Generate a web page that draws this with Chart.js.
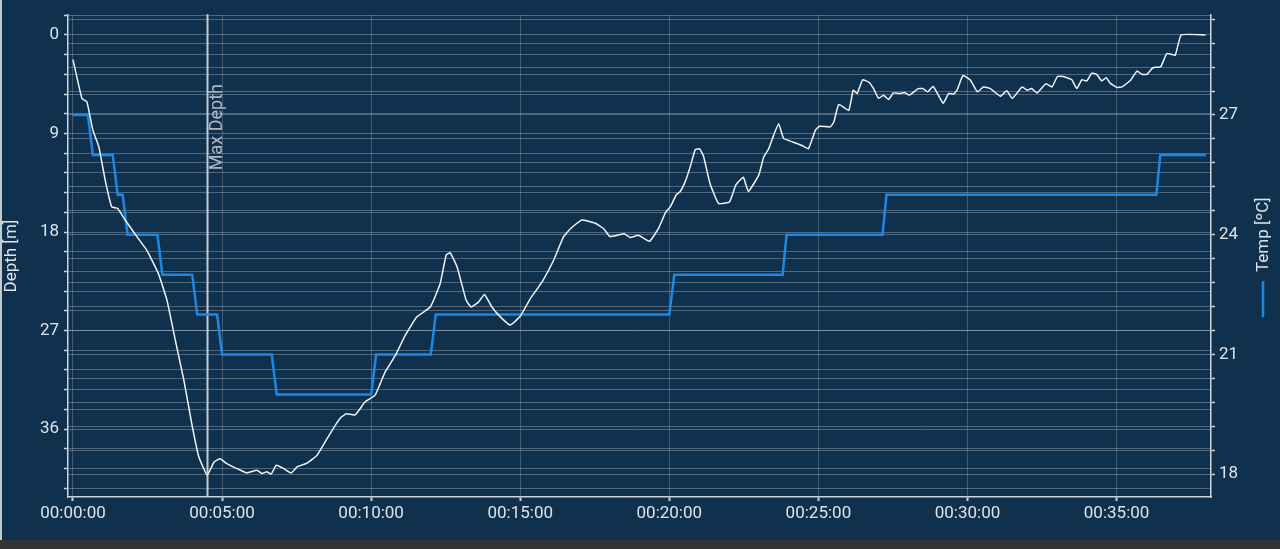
<!DOCTYPE html>
<html>
<head>
<meta charset="utf-8">
<title>Dive profile</title>
<script src="https://cdn.jsdelivr.net/npm/chart.js@4.4.1/dist/chart.umd.min.js"></script>
<style>
  html, body { margin: 0; padding: 0; background: #333333; }
  #wrap { position: relative; width: 1280px; height: 540px; background: #10314e; }
  #wrap::before { content: ""; position: absolute; left: 0; top: 0; width: 2px; height: 540px; background: #c3cbd2; }
  canvas { display: block; }
</style>
</head>
<body>
<div id="wrap"><canvas id="diveChart" width="1280" height="540"></canvas></div>
<script>
// dive samples: time in seconds
const depthTime = [0, 18, 28, 40, 52, 65, 78, 90, 105, 129, 149, 172, 189, 206, 223, 239, 253, 270,
  284, 296, 308, 320, 335, 350, 370, 380, 390, 399, 409, 424, 439, 451, 471, 491, 511, 530, 540, 550,
  568, 588, 608, 628, 649, 669, 692, 719, 739, 751, 759, 773, 791, 801, 816, 828, 843, 860, 880, 900,
  920, 944, 967, 987, 1001, 1024, 1051, 1068, 1080, 1095, 1109, 1121, 1138, 1160, 1178, 1192, 1202,
  1214, 1222, 1232, 1242, 1252, 1261, 1269, 1282, 1299, 1321, 1334, 1349, 1359, 1380, 1390, 1400,
  1410, 1420, 1430, 1450, 1467, 1480, 1494, 1502, 1524, 1531, 1541, 1561, 1570, 1578, 1589, 1601,
  1611, 1621, 1631, 1641, 1651, 1665, 1673, 1683, 1701, 1710, 1720, 1731, 1751, 1762, 1772, 1779,
  1791, 1806, 1820, 1832, 1846, 1866, 1879, 1890, 1910, 1920, 1929, 1940, 1958, 1970, 1981, 1993,
  2010, 2020, 2030, 2040, 2050, 2060, 2070, 2079, 2087, 2101, 2111, 2128, 2141, 2151, 2161, 2173,
  2189, 2201, 2218, 2230, 2279];
const depthValues = [2.25, 5.8, 6.1, 8.7, 10.2, 13.3, 15.7, 15.85, 16.9, 18.45, 19.7, 21.8, 24.2, 27.9, 31.5, 35.5, 38.5, 40.2,
  39.0, 38.7, 39.1, 39.4, 39.7, 40.0, 39.75, 40.05, 39.9, 40.1, 39.3, 39.6, 40.0, 39.45, 39.1, 38.4, 36.9, 35.5, 34.9, 34.6,
  34.7, 33.5, 32.9, 30.8, 29.25, 27.4, 25.75, 24.85, 22.7, 20.1, 19.9, 21.2, 24.2, 24.85, 24.4, 23.7, 24.85, 25.75, 26.5, 25.7,
  24.1, 22.55, 20.6, 18.45, 17.7, 16.9, 17.2, 17.7, 18.4, 18.3, 18.15, 18.5, 18.3, 18.85, 17.7, 16.25, 15.7,
  14.6, 14.3, 13.4, 12.05, 10.5, 10.4, 11.1, 13.6, 15.4, 15.25, 13.7, 13.0, 14.3, 12.8, 11.15, 10.4,
  9.15, 8.1, 9.45, 9.8, 10.1, 10.4, 8.7, 8.35, 8.4, 7.95, 6.35, 6.9, 5.05, 5.35, 4.1, 4.3,
  4.9, 5.8, 5.5, 5.9, 5.3, 5.35, 5.25, 5.5, 4.9, 4.9, 5.2, 4.7, 6.25, 5.35, 5.4, 5.05,
  3.7, 4.15, 5.2, 4.75, 4.9, 5.6, 5.1, 5.8, 4.75, 5.05, 4.9, 5.3, 4.45, 4.75, 3.8, 3.8,
  4.1, 4.9, 4.1, 4.2, 3.5, 3.6, 4.2, 3.9, 4.4, 4.8, 4.75, 4.15, 3.3, 3.6, 3.6, 3.0,
  2.9, 1.7, 1.85, 0, 0];

const tempTime = [0, 30, 40, 80, 90, 100, 110, 170, 180, 240, 250, 290, 300, 400, 410, 600, 610,
  720, 730, 1200, 1210, 1428, 1436, 1629, 1637, 2180, 2188, 2280];
const tempValues = [27, 27, 26, 26, 25, 25, 24, 24, 23, 23, 22, 22, 21, 21, 20, 20, 21,
  21, 22, 22, 23, 23, 24, 24, 25, 25, 26, 26];

const depthLabels = [0, 9, 18, 27, 36];
const tempLabels = [18, 21, 24, 27];

const textColor = '#dde3e9';
const gridColor = 'rgba(255,255,255,0.27)';
const axisColor = '#cdd4db';
const fontFamily = 'Roboto, "Noto Sans", sans-serif';

function fmtTime(s) {
    const h = Math.floor(s / 3600);
    const m = Math.floor((s % 3600) / 60);
    const sec = Math.round(s % 60);
    return [h, m, sec].map(v => String(v).padStart(2, '0')).join(':');
}

function inList(list, v) {
    return list.some(l => Math.abs(l - v) < 1e-6);
}

// index of the deepest sample, used for the marker
let maxIdx = 0;
depthValues.forEach((d, i) => { if (d > depthValues[maxIdx]) maxIdx = i; });

const diveDecor = {
    id: 'diveDecor',
    beforeDatasetsDraw(chart) {
        const {ctx, chartArea, scales} = chart;
        const x = Math.round(scales.x.getPixelForValue(depthTime[maxIdx])) + 0.5;
        ctx.save();
        ctx.strokeStyle = '#c4cbd2';
        ctx.lineWidth = 2;
        ctx.beginPath();
        ctx.moveTo(x, chartArea.top - 1);
        ctx.lineTo(x, chartArea.bottom);
        ctx.stroke();
        // label reads bottom to top, just right of the line
        ctx.translate(x + 1, chartArea.top + 155);
        ctx.rotate(-Math.PI / 2);
        ctx.fillStyle = '#aeb8c2';
        ctx.font = '18px ' + fontFamily;
        ctx.textAlign = 'left';
        ctx.textBaseline = 'alphabetic';
        ctx.fillText('Max Depth', 0, 13);
        ctx.restore();
    },
    afterDraw(chart) {
        const {ctx, chartArea} = chart;
        const cy = (chartArea.top + chartArea.bottom) / 2;
        ctx.save();
        ctx.translate(1263, cy);
        ctx.rotate(-Math.PI / 2);
        ctx.strokeStyle = '#1e88e5';
        ctx.lineWidth = 2.5;
        ctx.beginPath();
        ctx.moveTo(-61, 0);
        ctx.lineTo(-25, 0);
        ctx.stroke();
        ctx.fillStyle = textColor;
        ctx.font = '17px ' + fontFamily;
        ctx.textAlign = 'left';
        ctx.textBaseline = 'middle';
        ctx.fillText('Temp [ºC]', -16, 1);
        ctx.restore();
    }
};

new Chart(document.getElementById('diveChart'), {
    type: 'line',
    data: {
        datasets: [{
            label: 'Depth',
            data: depthTime.map((t, i) => ({x: t, y: depthValues[i]})),
            yAxisID: 'y',
            borderColor: '#f1f3f5',
            borderWidth: 1.5,
            pointRadius: 0,
            tension: 0.12
        }, {
            label: 'Temp',
            data: tempTime.map((t, i) => ({x: t, y: tempValues[i]})),
            yAxisID: 'y1',
            borderColor: '#1e88e5',
            borderWidth: 2.5,
            pointRadius: 0,
            tension: 0
        }]
    },
    options: {
        responsive: false,
        animation: false,
        layout: {padding: {top: 14, left: 0, right: 0, bottom: 0}},
        plugins: {legend: {display: false}, tooltip: {enabled: false}},
        scales: {
            x: {
                type: 'linear',
                min: -10,
                max: 2290,
                afterFit(scale) { scale.height = 43; },
                ticks: {
                    stepSize: 300,
                    includeBounds: false,
                    autoSkip: false,
                    maxRotation: 0,
                    padding: 3,
                    color: textColor,
                    font: {family: fontFamily, size: 17},
                    callback: v => fmtTime(v)
                },
                grid: {color: 'rgba(255,255,255,0.2)', tickColor: axisColor, tickLength: 4, tickWidth: 2},
                border: {color: axisColor, width: 1.5}
            },
            y: {
                position: 'left',
                reverse: true,
                min: -1.8,
                max: 42.2,
                afterFit(scale) { scale.width = 68; },
                ticks: {
                    stepSize: 1.8,
                    includeBounds: false,
                    autoSkip: false,
                    padding: 5,
                    color: textColor,
                    font: {family: fontFamily, size: 17},
                    callback: v => inList(depthLabels, v) ? String(Math.round(v)) : ''
                },
                title: {
                    display: true,
                    text: 'Depth [m]',
                    color: textColor,
                    font: {family: fontFamily, size: 17},
                    padding: {top: 2, bottom: 0}
                },
                grid: {color: gridColor, tickColor: axisColor, tickLength: 4, tickWidth: 1.5},
                border: {color: axisColor, width: 1.5}
            },
            y1: {
                position: 'right',
                min: 17.43,
                max: 29.5,
                afterFit(scale) { scale.width = 69; },
                ticks: {
                    stepSize: 0.6,
                    includeBounds: false,
                    autoSkip: false,
                    padding: 4,
                    color: textColor,
                    font: {family: fontFamily, size: 17},
                    callback: v => inList(tempLabels, v) ? String(Math.round(v)) : ''
                },
                grid: {color: gridColor, tickColor: axisColor, tickLength: 4, tickWidth: 1.5},
                border: {color: axisColor, width: 1.5}
            }
        }
    },
    plugins: [diveDecor]
});
</script>
</body>
</html>
